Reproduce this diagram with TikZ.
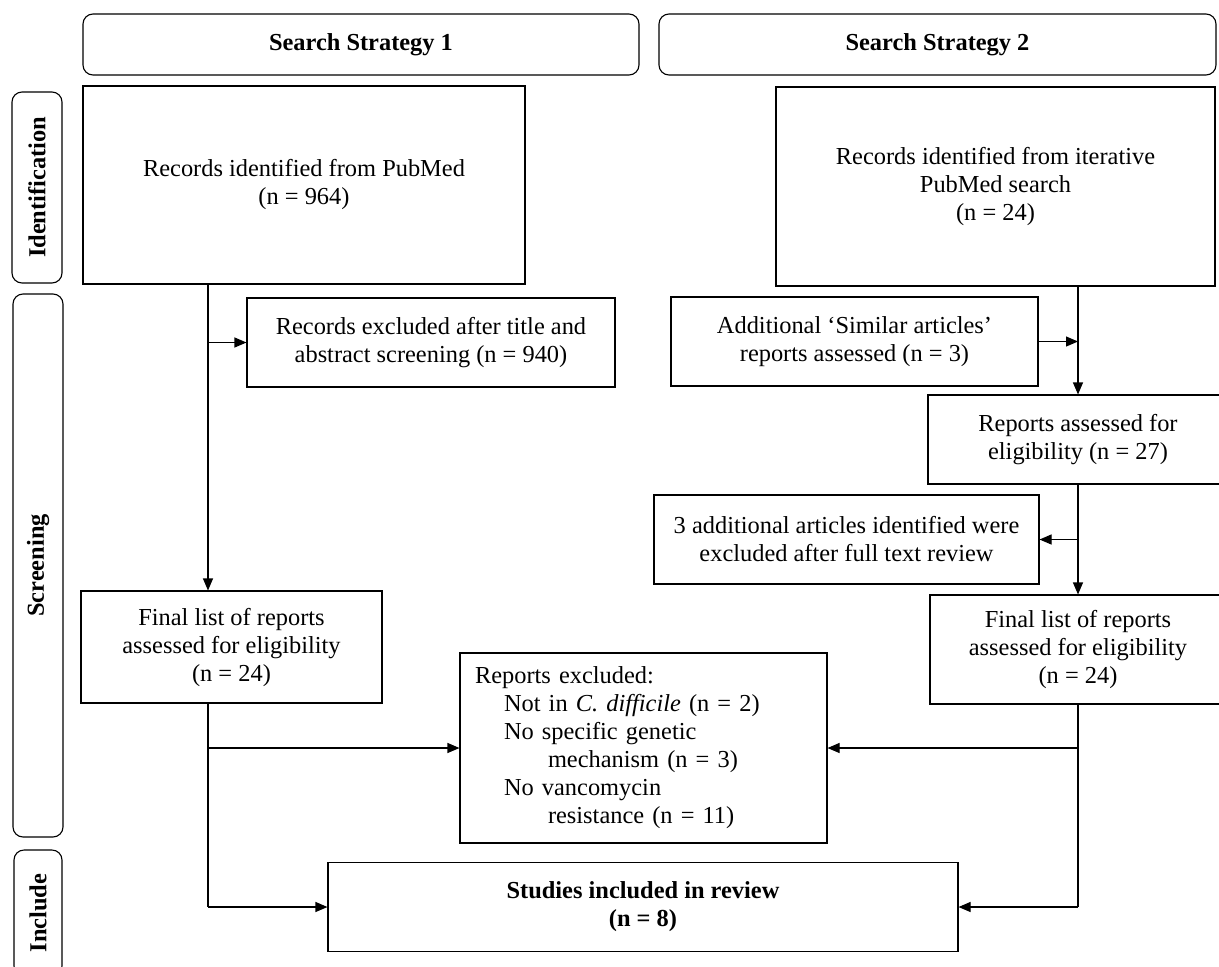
\documentclass[tikz,border=0pt]{standalone}
\usepackage{fontspec}
\setmainfont{Liberation Serif}
\usetikzlibrary{arrows.meta}
\begin{document}
\begin{tikzpicture}[x=1pt,y=-1pt,
  every node/.style={font=\fontsize{24.4pt}{28pt}\selectfont},
  box/.style={draw, line width=1.1pt, rectangle, align=center, inner sep=2pt},
  hdr/.style={draw, line width=1.1pt, rounded corners=10pt, align=center, font=\fontsize{24.4pt}{28pt}\selectfont\bfseries},
  side/.style={draw, line width=1.1pt, rounded corners=10pt, rotate=90, font=\fontsize{24.4pt}{28pt}\selectfont\bfseries},
  link/.style={line width=1.1pt},
  arr/.style={line width=1.1pt, -{Triangle[length=12pt,width=10pt]}}]
\useasboundingbox (0,0) rectangle (1219,967);

% headers
\node[hdr, minimum width=556pt, minimum height=61pt] (h1) at (361,44.5) {Search Strategy 1};
\node[hdr, minimum width=557pt, minimum height=61pt] (h2) at (937.5,44.5) {Search Strategy 2};

% side labels
\node[side, minimum width=191pt, minimum height=50pt] (sid) at (37,187.5) {Identification};
\node[side, minimum width=543pt, minimum height=50pt] (sscr) at (38,565.5) {Screening};
\node[side, minimum width=126pt, minimum height=48pt] (sinc) at (38,913) {Include};

% boxes
\node[box, minimum width=442pt, minimum height=198pt] (pubmed) at (304,185) {Records identified from PubMed\\(n = 964)};
\node[box, minimum width=439pt, minimum height=199pt] (iter) at (995.5,186.5) {Records identified from iterative\\PubMed search\\(n = 24)};
\node[box, minimum width=368pt, minimum height=89pt] (excla) at (431,342.5) {Records excluded after title and\\abstract screening (n = 940)};
\node[box, minimum width=367pt, minimum height=89pt] (similar) at (854.5,341.5) {Additional ‘Similar articles’\\reports assessed (n = 3)};
\node[box, minimum width=300pt, minimum height=89pt] (rep27) at (1078,439.5) {Reports assessed for\\eligibility (n = 27)};
\node[box, minimum width=385pt, minimum height=89pt] (exclb) at (846.5,539.5) {3 additional articles identified were\\excluded after full text review};
\node[box, minimum width=296pt, minimum height=109pt] (finR) at (1078,649.5) {Final list of reports\\assessed for eligibility\\(n = 24)};
\node[box, minimum width=301pt, minimum height=112pt] (finL) at (231.5,647) {Final list of reports\\assessed for eligibility\\(n = 24)};
\node[box, align=left, text width=337pt, inner xsep=15pt, inner ysep=0pt, minimum height=190pt] (repexcl) at (643.5,748)
  {Reports excluded:\\
   \hspace*{29pt}Not in \textit{C. difficile} (n = 2)\\
   \hspace*{29pt}No specific genetic\\
   \hspace*{73pt}mechanism (n = 3)\\
   \hspace*{29pt}No vancomycin\\
   \hspace*{73pt}resistance (n = 11)};
\node[box, minimum width=630pt, minimum height=89pt, font=\fontsize{24.4pt}{28pt}\selectfont\bfseries] (studies) at (643,907) {Studies included in review\\(n = 8)};

% trunk coordinates
\coordinate (L) at (208,0);
\coordinate (R) at (1078,0);

% left flow
\draw[arr] (pubmed.south -| L) -- (finL.north -| L);
\draw[arr] (L |- excla.west) -- (excla.west);
\draw[link] (finL.south -| L) -- (L |- studies.west);
\draw[arr] (L |- studies.west) -- (studies.west);
\draw[arr] (L |- repexcl.west) -- (repexcl.west);

% right flow
\draw[arr] (iter.south -| R) -- (rep27.north);
\draw[arr] (similar.east) -- (R |- similar.east);
\draw[arr] (rep27.south) -- (finR.north);
\draw[arr] (R |- exclb.east) -- (exclb.east);
\draw[link] (finR.south) -- (R |- studies.east);
\draw[arr] (R |- studies.east) -- (studies.east);
\draw[arr] (R |- repexcl.east) -- (repexcl.east);
\end{tikzpicture}
\end{document}
